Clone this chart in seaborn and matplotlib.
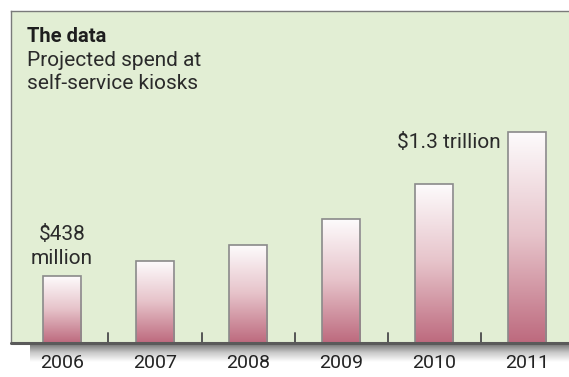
import numpy             as np
import pandas            as pd
import seaborn           as sns
import matplotlib.pyplot as plt
from matplotlib.colors import LinearSegmentedColormap

# bar heights (relative units, baseline = 0)
years   = ["2006", "2007", "2008", "2009", "2010", "2011"]
heights = [67, 82, 98, 124, 159, 211]
first_label = "$438\nmillion"
last_label  = "$1.3 trillion"

df = pd.DataFrame({"year": years, "spend": heights})

sns.set_theme(style="white")
plt.rcParams['font.family'] = ['Roboto', 'DejaVu Sans']

W, H = 569, 377
fig = plt.figure(figsize=(W / 100, H / 100), dpi=100)
fig.patch.set_facecolor("white")

# shadow strip under the panel
sh = fig.add_axes([30 / W, (H - 362) / H, (W - 30) / W, 19 / H])
grad = np.linspace(0, 1, 64).reshape(-1, 1)
shadow_cmap = LinearSegmentedColormap.from_list("sh", ["#6e6e6e", "#c8c8c8", "#ffffff"])
sh.imshow(grad, aspect="auto", cmap=shadow_cmap, extent=[0, 1, 0, 1])
sh.set_axis_off()

ax = fig.add_axes([11 / W, (H - 343) / H, (W - 11) / W, 332 / H])
ax.set_facecolor("#e2eed4")

sns.barplot(data=df, x="year", y="spend", ax=ax, width=0.41,
            color="#c47a8c", edgecolor="#8a8a8a", linewidth=1.2, zorder=2)

bar_cmap = LinearSegmentedColormap.from_list("bar", ["#fdfbfc", "#e6c2c9", "#bd6a7e"])
for p in ax.patches:
    x0, y0 = p.get_x(), p.get_y()
    w, h = p.get_width(), p.get_height()
    im = ax.imshow(np.linspace(0, 1, 128).reshape(-1, 1), aspect="auto", cmap=bar_cmap,
                   extent=[x0, x0 + w, y0, y0 + h], origin="upper", zorder=2.5)
    im.set_clip_path(p)
    p.set_facecolor("none")
    p.set_zorder(3)

ax.set_xlim(-0.548, 5.45)
ax.set_ylim(0, 332)

# small ticks between bars
for i in range(len(years) - 1):
    ax.plot([i + 0.5, i + 0.5], [0, 10], color="#555555", lw=1.4, zorder=1)

for s in ["right", "bottom"]:
    ax.spines[s].set_visible(False)
for s in ["top", "left"]:
    ax.spines[s].set_color("#7a7a7a")
    ax.spines[s].set_linewidth(1.0)
ax.axhline(0, color="#5a5a5a", lw=2.2, zorder=4, clip_on=False)

ax.set_xlabel("")
ax.set_ylabel("")
ax.set_yticks([])
ax.tick_params(axis="x", length=0, pad=8, labelsize=14, labelcolor="#222222")

ax.text(0, heights[0] + 8, first_label, ha="center", va="bottom",
        fontsize=15, color="#2a2a2a", linespacing=1.3)
ax.text(4.71, heights[-1] - 10, last_label, ha="right", va="center",
        fontsize=15, color="#2a2a2a")

fig.text(27 / W, 1 - 36 / H, "The data", fontsize=14.5, fontweight="bold",
         color="#1e1e1e", va="center")
fig.text(27 / W, 1 - 72 / H, "Projected spend at\nself-service kiosks", fontsize=15,
         color="#2a2a2a", va="center", linespacing=1.25)

fig.savefig("out.png", dpi=100)
plt.close()
